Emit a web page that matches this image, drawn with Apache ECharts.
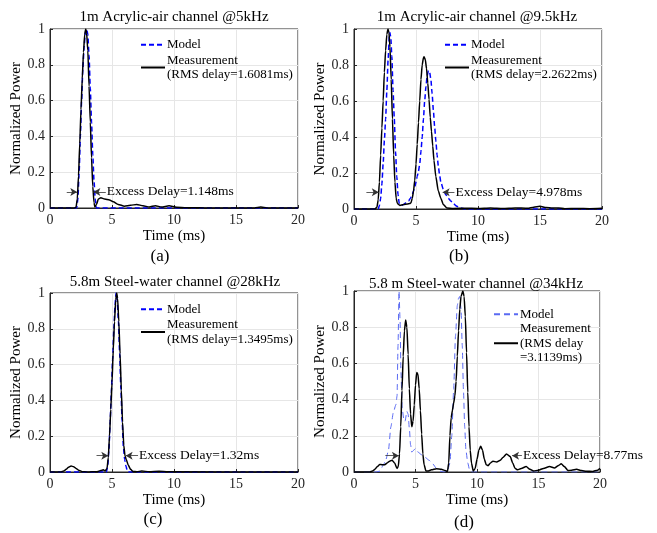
<!DOCTYPE html>
<html>
<head>
<meta charset="utf-8">
<script src="https://cdn.jsdelivr.net/npm/echarts@6/dist/echarts.min.js"></script>
<style>
  html, body { margin: 0; padding: 0; background: #fff; }
  #chart { width: 657px; height: 533px; }
</style>
</head>
<body>
<div id="chart"></div>
<script>
// ---- data: [time (ms), normalized power] ----
const measA = [[0,0],[1,0],[2,0],[2.1,0.005],[2.2,0.05],[2.3,0.18],[2.4,0.36],[2.5,0.55],[2.6,0.72],[2.7,0.87],[2.8,0.97],[2.88,1],[2.95,0.98],[3.05,0.88],[3.15,0.68],[3.25,0.48],[3.35,0.28],[3.45,0.12],[3.55,0.03],[3.62,0.005],[3.75,0.02],[3.9,0.05],[4.1,0.057],[4.4,0.05],[4.8,0.045],[5.1,0.035],[5.5,0.02],[6,0.01],[6.5,0.015],[7,0.02],[7.5,0.012],[8,0.006],[8.5,0.013],[9,0.005],[9.6,0.012],[10.2,0.004],[11,0.002],[12,0.001],[13,0],[16.5,0],[17,0.005],[17.5,0],[20,0]];
const modelA = [[0,0],[2.15,0],[2.25,0.05],[2.35,0.2],[2.45,0.4],[2.55,0.6],[2.65,0.78],[2.75,0.9],[2.85,0.98],[2.95,1],[3.05,0.97],[3.15,0.85],[3.25,0.67],[3.35,0.48],[3.45,0.3],[3.55,0.15],[3.65,0.05],[3.75,0],[20,0]];

const measB = [[0,0],[1.7,0],[1.85,0.01],[1.95,0.05],[2.05,0.15],[2.15,0.3],[2.25,0.45],[2.35,0.6],[2.45,0.76],[2.55,0.88],[2.65,0.97],[2.74,1],[2.82,0.98],[2.9,0.9],[3.0,0.72],[3.1,0.5],[3.2,0.3],[3.3,0.15],[3.4,0.06],[3.5,0.03],[3.7,0.02],[4.0,0.025],[4.3,0.028],[4.5,0.03],[4.6,0.035],[4.7,0.06],[4.8,0.1],[4.9,0.16],[5.0,0.25],[5.1,0.36],[5.2,0.48],[5.3,0.6],[5.4,0.72],[5.5,0.8],[5.6,0.84],[5.65,0.846],[5.75,0.83],[5.85,0.78],[5.95,0.7],[6.05,0.61],[6.15,0.51],[6.25,0.43],[6.35,0.35],[6.45,0.27],[6.6,0.18],[6.8,0.1],[7.0,0.06],[7.2,0.025],[7.5,0.005],[8,0.003],[9,0.004],[10,0.003],[11,0.006],[12,0.003],[13,0.006],[14,0.004],[14.5,0.01],[15,0.015],[15.5,0.008],[16,0.005],[16.5,0.006],[17,0.002],[18,0.003],[19,0.002],[20,0.004]];
const modelB = [[0,0],[1.95,0],[2.05,0.02],[2.15,0.06],[2.25,0.14],[2.35,0.25],[2.45,0.38],[2.55,0.5],[2.65,0.66],[2.75,0.83],[2.85,0.96],[2.9,0.98],[2.97,0.95],[3.05,0.85],[3.15,0.66],[3.25,0.5],[3.35,0.32],[3.45,0.18],[3.55,0.08],[3.65,0.03],[3.8,0.02],[4.0,0.025],[4.2,0.035],[4.4,0.045],[4.55,0.06],[4.7,0.08],[4.8,0.1],[4.9,0.12],[5.0,0.15],[5.1,0.18],[5.2,0.21],[5.3,0.25],[5.4,0.32],[5.5,0.4],[5.6,0.5],[5.7,0.6],[5.8,0.68],[5.9,0.74],[6.0,0.77],[6.1,0.76],[6.2,0.72],[6.3,0.64],[6.4,0.55],[6.5,0.46],[6.6,0.38],[6.7,0.3],[6.8,0.24],[6.9,0.19],[7.0,0.15],[7.2,0.11],[7.4,0.08],[7.6,0.06],[7.8,0.045],[8.0,0.03],[8.3,0.015],[8.6,0.006],[9,0],[20,0]];

const measC = [[0,0],[0.9,0],[1.1,0.005],[1.3,0.015],[1.5,0.027],[1.7,0.033],[1.9,0.03],[2.1,0.02],[2.3,0.01],[2.6,0.002],[3,0],[3.8,0.002],[4.1,0.008],[4.3,0.012],[4.45,0.006],[4.6,0.02],[4.7,0.08],[4.8,0.2],[4.9,0.35],[5.0,0.5],[5.1,0.68],[5.2,0.84],[5.3,0.96],[5.38,1],[5.45,0.97],[5.55,0.84],[5.65,0.66],[5.75,0.46],[5.85,0.28],[5.95,0.15],[6.05,0.09],[6.15,0.07],[6.3,0.04],[6.5,0.015],[6.7,0.003],[7,0.002],[7.4,0.005],[8,0.002],[8.8,0.004],[9.5,0.001],[20,0]];
const modelC = [[0,0],[4.55,0],[4.65,0.03],[4.75,0.12],[4.85,0.28],[4.95,0.45],[5.05,0.63],[5.15,0.8],[5.25,0.94],[5.33,1],[5.42,0.96],[5.52,0.84],[5.62,0.66],[5.72,0.46],[5.82,0.28],[5.92,0.14],[6.02,0.07],[6.12,0.035],[6.22,0.01],[6.3,0],[20,0]];

const measD = [[0,0],[1.3,0],[1.5,0.005],[1.7,0.015],[1.9,0.03],[2.1,0.042],[2.3,0.04],[2.5,0.04],[2.7,0.05],[2.9,0.06],[3.1,0.065],[3.3,0.05],[3.5,0.02],[3.6,0.03],[3.7,0.1],[3.8,0.25],[3.9,0.45],[4.0,0.64],[4.1,0.78],[4.2,0.84],[4.3,0.8],[4.4,0.65],[4.5,0.46],[4.6,0.32],[4.7,0.25],[4.8,0.28],[4.9,0.37],[5.0,0.48],[5.1,0.55],[5.2,0.54],[5.3,0.46],[5.4,0.34],[5.5,0.21],[5.6,0.1],[5.7,0.04],[5.85,0.005],[6.0,0.005],[6.3,0.012],[6.7,0.018],[7.1,0.015],[7.4,0.008],[7.6,0.003],[7.7,0.05],[7.8,0.2],[7.9,0.3],[8.0,0.34],[8.1,0.38],[8.2,0.42],[8.3,0.5],[8.4,0.64],[8.5,0.78],[8.6,0.9],[8.7,0.97],[8.85,1],[8.95,0.97],[9.05,0.86],[9.15,0.66],[9.25,0.44],[9.35,0.25],[9.45,0.12],[9.55,0.05],[9.7,0.005],[9.85,0.02],[10.0,0.07],[10.15,0.12],[10.3,0.142],[10.45,0.12],[10.6,0.07],[10.75,0.04],[10.9,0.035],[11.1,0.05],[11.3,0.06],[11.6,0.055],[11.9,0.065],[12.1,0.08],[12.4,0.1],[12.7,0.085],[12.9,0.05],[13.1,0.02],[13.3,0.012],[13.6,0.02],[14.0,0.03],[14.3,0.015],[14.6,0.005],[15.0,0.01],[15.4,0.02],[15.9,0.03],[16.3,0.022],[16.6,0.035],[16.85,0.045],[17.1,0.03],[17.4,0.008],[17.7,0.01],[18.1,0.015],[18.5,0.008],[18.9,0.004],[19.4,0.003],[19.8,0.01],[20,0.02]];
const modelD = [[0,0],[1.8,0],[2.1,0.005],[2.4,0.04],[2.6,0.07],[2.8,0.12],[3.0,0.25],[3.2,0.33],[3.4,0.37],[3.5,0.42],[3.58,0.7],[3.66,1.0],[3.74,0.85],[3.82,0.55],[3.92,0.35],[4.05,0.29],[4.15,0.28],[4.3,0.335],[4.4,0.32],[4.5,0.24],[4.6,0.15],[4.7,0.11],[4.85,0.12],[5.0,0.13],[5.2,0.11],[5.5,0.095],[5.8,0.08],[6.1,0.065],[6.4,0.045],[6.7,0.02],[7.0,0.005],[7.3,0],[7.6,0.005],[7.8,0.05],[7.95,0.2],[8.1,0.45],[8.25,0.75],[8.4,0.92],[8.5,0.96],[8.6,0.97],[8.7,0.9],[8.8,0.7],[8.9,0.45],[9.0,0.25],[9.1,0.12],[9.25,0.05],[9.4,0.01],[9.6,0],[20,0]];

// excess delay markers: [tail, tip] in ms, arrow height, label
const excessA = [[1.35, 2.2], [4.5, 3.5]];
const excessB = [[1.0, 2.0], [8.1, 7.15]];
const excessC = [[3.75, 4.7], [7.1, 6.1]];
const excessD = [[2.55, 3.65], [13.65, 12.85]];
const excessY = [0.09, 0.093, 0.091, 0.09];
const excessText = ['Excess Delay=1.148ms', 'Excess Delay=4.978ms', 'Excess Delay=1.32ms', 'Excess Delay=8.77ms'];

const titles = ['1m Acrylic-air channel @5kHz', '1m Acrylic-air channel @9.5kHz', '5.8m Steel-water channel @28kHz', '5.8 m Steel-water channel @34kHz'];
const subLabels = ['(a)', '(b)', '(c)', '(d)'];
const modelLabel = 'Model';
const measLabels = ['Measurement\n(RMS delay=1.6081ms)', 'Measurement\n(RMS delay=2.2622ms)', 'Measurement\n(RMS delay=1.3495ms)', 'Measurement\n(RMS delay\n=3.1139ms)'];
const xTicks = [0, 20, 5];
const yTicks = [0, 1, 0.2];

// ---- layout ----
const SERIF = "'Liberation Serif', 'Times New Roman', serif";
const panels = [
  { meas: measA, model: modelA, excess: excessA, grid: { left: 50, top: 29, width: 248, height: 179 }, title: [174, 10], sub: [160, 248], legend: [140, 37.5], yGap: 19, modelColor: '#0000ff', modelWidth: 1.5, modelDash: [5, 3] },
  { meas: measB, model: modelB, excess: excessB, grid: { left: 354, top: 29, width: 248, height: 180 }, title: [477, 10], sub: [459, 248], legend: [444, 37.5], yGap: 25, modelColor: '#0000ff', modelWidth: 1.5, modelDash: [5, 3] },
  { meas: measC, model: modelC, excess: excessC, grid: { left: 50, top: 293, width: 248, height: 179 }, title: [175, 275], sub: [153, 511], legend: [140, 302], yGap: 19, modelColor: '#0000ff', modelWidth: 1.5, modelDash: [5, 3] },
  { meas: measD, model: modelD, excess: excessD, grid: { left: 354, top: 291, width: 246, height: 181 }, title: [476, 277], sub: [464, 514], legend: [493, 307], yGap: 25, modelColor: '#5a6af2', modelWidth: 1, modelDash: [6, 4] }
];

const option = {
  animation: false,
  backgroundColor: '#fff',
  textStyle: { fontFamily: SERIF },
  title: [],
  legend: [],
  grid: [],
  xAxis: [],
  yAxis: [],
  series: []
};

const nameMap = {};

panels.forEach((p, i) => {
  option.grid.push(Object.assign({ show: true, borderColor: '#262626', borderWidth: 1, backgroundColor: '#fff' }, p.grid));

  option.title.push({
    text: titles[i], left: p.title[0], top: p.title[1], textAlign: 'center',
    textStyle: { fontFamily: SERIF, fontSize: 15, fontWeight: 'normal', color: '#000' }, padding: 0
  });
  option.title.push({
    text: subLabels[i], left: p.sub[0], top: p.sub[1], textAlign: 'center',
    textStyle: { fontFamily: SERIF, fontSize: 17, fontWeight: 'normal', color: '#000' }, padding: 0
  });

  option.xAxis.push({
    type: 'value', gridIndex: i, min: xTicks[0], max: xTicks[1], interval: xTicks[2],
    name: 'Time (ms)', nameLocation: 'middle', nameGap: 21,
    nameTextStyle: { fontFamily: SERIF, fontSize: 15, color: '#000' },
    axisLine: { show: true, lineStyle: { color: '#262626', width: 1 } },
    axisTick: { show: true, inside: true, length: 3, lineStyle: { color: '#262626' } },
    axisLabel: { fontFamily: SERIF, fontSize: 14, color: '#262626', margin: 5 },
    splitLine: { show: true, lineStyle: { color: '#e6e6e6', width: 1 } }
  });
  option.yAxis.push({
    type: 'value', gridIndex: i, min: yTicks[0], max: yTicks[1], interval: yTicks[2],
    name: 'Normalized Power', nameLocation: 'middle', nameGap: p.yGap, nameRotate: 90,
    nameTextStyle: { fontFamily: SERIF, fontSize: 15, color: '#000' },
    axisLine: { show: true, lineStyle: { color: '#262626', width: 1 } },
    axisTick: { show: true, inside: true, length: 3, lineStyle: { color: '#262626' } },
    axisLabel: { fontFamily: SERIF, fontSize: 14, color: '#262626', margin: 5 },
    splitLine: { show: true, lineStyle: { color: '#e6e6e6', width: 1 } }
  });

  const modelName = 'model' + i;
  const measName = 'meas' + i;
  nameMap[modelName] = modelLabel;
  nameMap[measName] = measLabels[i];

  option.series.push({
    name: modelName, type: 'line', xAxisIndex: i, yAxisIndex: i,
    data: p.model, symbol: 'none', smooth: 0.2, smoothMonotone: 'x',
    lineStyle: { color: p.modelColor, width: p.modelWidth, type: p.modelDash },
    itemStyle: { color: p.modelColor }, z: 2
  });
  const y = excessY[i];
  option.series.push({
    name: measName, type: 'line', xAxisIndex: i, yAxisIndex: i,
    data: p.meas, symbol: 'none', smooth: 0.2, smoothMonotone: 'x',
    lineStyle: { color: '#000', width: 1.5 }, itemStyle: { color: '#000' }, z: 3,
    markLine: {
      silent: true, symbol: ['none', 'arrow'], symbolSize: [6, 7], precision: 3,
      lineStyle: { color: '#333', width: 0.8, type: 'solid' },
      label: { show: false },
      data: [
        [{ coord: [p.excess[0][0], y] }, { coord: [p.excess[0][1], y] }],
        [{ coord: [p.excess[1][0], y], label: { show: true, position: 'start', distance: 1, formatter: excessText[i], fontFamily: SERIF, fontSize: 13.5, color: '#000' } }, { coord: [p.excess[1][1], y] }]
      ]
    }
  });

  option.legend.push({
    orient: 'vertical', left: p.legend[0], top: p.legend[1], padding: 0,
    itemWidth: 24, itemHeight: 14, itemGap: i === 3 ? 0 : 1,
    data: [modelName, measName],
    formatter: (n) => nameMap[n],
    itemStyle: { opacity: 0, borderWidth: 0 },
    textStyle: { fontFamily: SERIF, fontSize: 13, lineHeight: 14.5, color: '#000', padding: [0, 0, 0, -3] },
    selectedMode: false
  });
});

const chart = echarts.init(document.getElementById('chart'), null, { renderer: 'canvas' });
chart.setOption(option);
window.addEventListener('resize', () => chart.resize());
</script>
</body>
</html>
